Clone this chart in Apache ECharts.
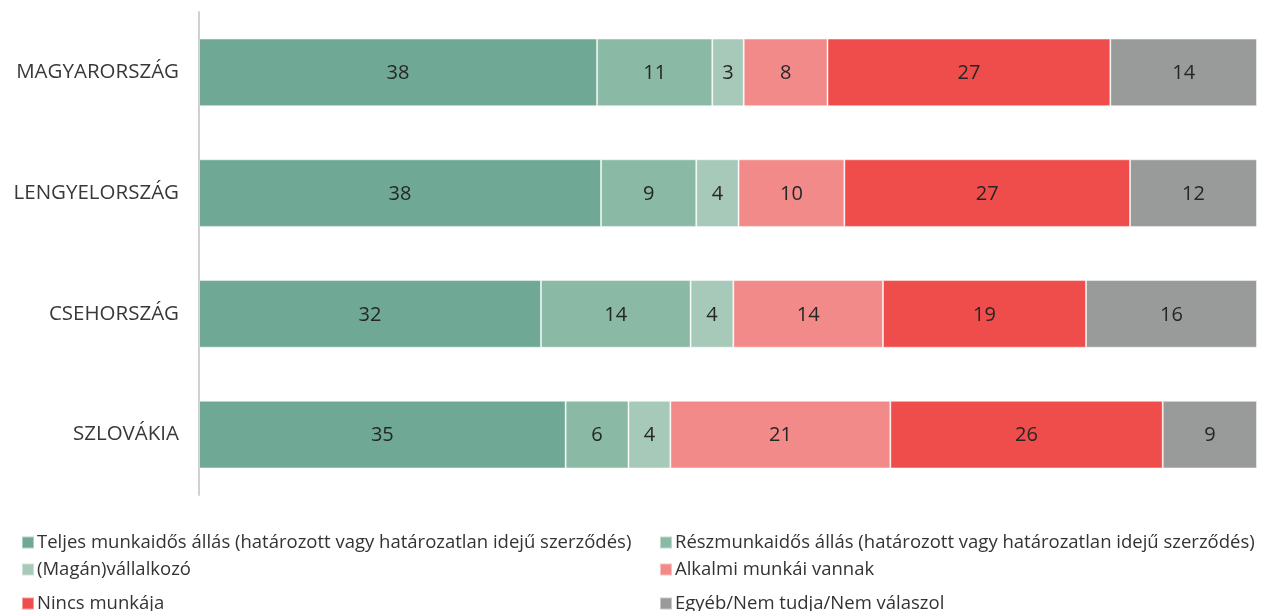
<!DOCTYPE html>
<html>
<head>
<meta charset="utf-8">
<script src="https://cdn.jsdelivr.net/npm/echarts@6/dist/echarts.min.js"></script>
<style>
  html, body { margin: 0; padding: 0; background: #fff; }
  #chart { width: 1261px; height: 611px; }
</style>
</head>
<body>
<div id="chart"></div>
<script>
// országok (felülről lefelé)
const countries = ['MAGYARORSZÁG', 'LENGYELORSZÁG', 'CSEHORSZÁG', 'SZLOVÁKIA']
const seriesNames = [
  'Teljes munkaidős állás (határozott vagy határozatlan idejű szerződés)',
  'Részmunkaidős állás (határozott vagy határozatlan idejű szerződés)',
  '(Magán)vállalkozó',
  'Alkalmi munkái vannak',
  'Nincs munkája',
  'Egyéb/Nem tudja/Nem válaszol'
]
const fullTime = [38, 38, 32, 35]
const partTime = [11, 9, 14, 6]
const selfEmployed = [3, 4, 4, 4]
const casual = [8, 10, 14, 21]
const noJob = [27, 27, 19, 26]
const other = [14, 12, 16, 9]
const colors = ['#6fa996', '#8ab9a5', '#a6c9b9', '#f28a8a', '#ef4d4b', '#999b9b']

const allValues = [fullTime, partTime, selfEmployed, casual, noJob, other]
// sorösszeg, hogy minden sáv 100%-ig érjen
const rowSums = countries.map((c, i) => allValues.reduce((s, arr) => s + arr[i], 0))

const chart = echarts.init(document.getElementById('chart'))

const font = '"Open Sans", "Noto Sans", sans-serif'

const series = allValues.map((vals, k) => ({
  name: seriesNames[k],
  type: 'bar',
  stack: 'total',
  barCategoryGap: '44%',
  itemStyle: { color: colors[k], borderColor: 'rgba(255,255,255,0.45)', borderWidth: 1 },
  label: {
    show: true,
    position: 'inside',
    color: '#262626',
    fontSize: 20,
    fontFamily: font,
    offset: [0, 1],
    formatter: p => vals[p.dataIndex]
  },
  data: vals.map((v, i) => v / rowSums[i] * 100)
}))

// jelmagyarázat: két oszlop, három sor
const legendPos = [
  { left: 21, top: 533 },
  { left: 659, top: 533 },
  { left: 21, top: 560 },
  { left: 659, top: 560 },
  { left: 21, top: 594 },
  { left: 659, top: 594 }
]
const legends = seriesNames.map((name, i) => ({
  data: [name],
  left: legendPos[i].left,
  top: legendPos[i].top,
  itemWidth: 12,
  itemHeight: 12,
  itemGap: 0,
  icon: 'rect',
  selectedMode: false,
  padding: 0,
  textStyle: { fontSize: 18.5, color: '#333', fontFamily: font, padding: [0, 0, 0, -2] }
}))

const option = {
  animation: false,
  color: colors,
  grid: { left: 199, right: 4, top: 12, bottom: 116 },
  legend: legends,
  xAxis: {
    type: 'value',
    min: 0,
    max: 100,
    show: false
  },
  yAxis: {
    type: 'category',
    inverse: true,
    data: countries,
    axisLine: { show: true, lineStyle: { color: '#d0d0d0', width: 2 } },
    axisTick: { show: false },
    axisLabel: { color: '#383838', fontSize: 20.5, fontFamily: font, margin: 20 }
  },
  series: series
}

chart.setOption(option)
</script>
</body>
</html>
